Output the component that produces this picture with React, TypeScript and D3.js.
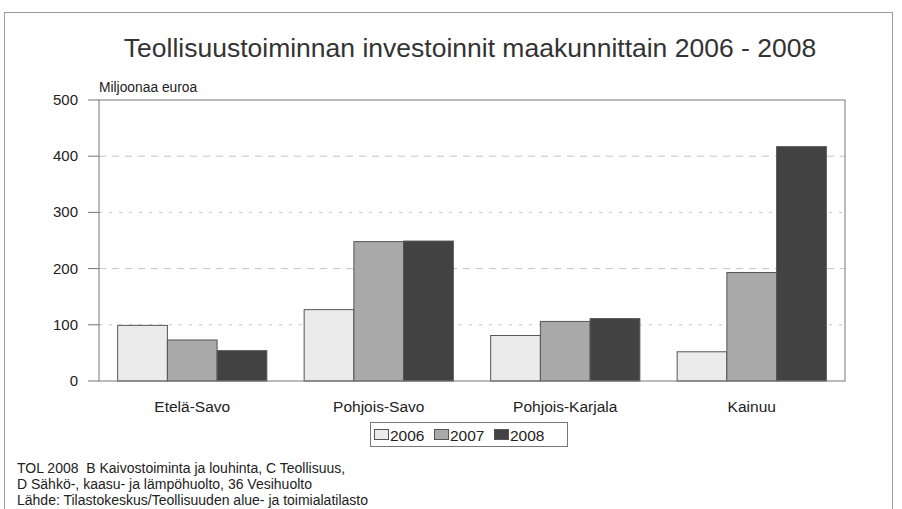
import * as d3 from 'd3'

const regions = ['Etelä-Savo', 'Pohjois-Savo', 'Pohjois-Karjala', 'Kainuu']
const years = ['2006', '2007', '2008']
const values2006 = [99, 127, 81, 52]
const values2007 = [73, 248, 106, 193]
const values2008 = [54, 249, 111, 417]
const yTicks = [0, 100, 200, 300, 400, 500]
const yearColors = ['#ebebeb', '#a9a9a9', '#424242']
const footnotes = [
  'TOL 2008\u00a0 B Kaivostoiminta ja louhinta, C Teollisuus,',
  'D Sähkö-, kaasu- ja lämpöhuolto, 36 Vesihuolto',
  'Lähde: Tilastokeskus/Teollisuuden alue- ja toimialatilasto',
]

const W = 902
const H = 509
const plot = { left: 99, right: 845, top: 100, bottom: 381 }
const font = '"Liberation Sans", Arial, sans-serif'

export default function App() {
  const series = [values2006, values2007, values2008]
  const x = d3.scaleBand<string>().domain(regions).range([plot.left, plot.right]).paddingInner(0.2).paddingOuter(0.1)
  const xs = d3.scaleBand<string>().domain(years).range([0, x.bandwidth()])
  const y = d3.scaleLinear().domain([0, 500]).range([plot.bottom, plot.top])

  return (
    <svg width={W} height={H} style={{ position: 'absolute', left: 0, top: 0, background: '#fff' }} fontFamily={font}>
      <rect x={4.5} y={12.5} width={888} height={520} fill="none" stroke="#9a9a9a" />
      <text x={470} y={57} textAnchor="middle" fontSize={26.5} fill="#333">
        Teollisuustoiminnan investoinnit maakunnittain 2006 - 2008
      </text>
      <text x={plot.left} y={92} fontSize={13.8} fill="#222">Miljoonaa euroa</text>

      {yTicks.filter((t) => t > 0 && t < 500).map((t) => (
        <line key={'g' + t} x1={plot.left} x2={plot.right} y1={y(t)} y2={y(t)}
          stroke="#c4c4c4" strokeDasharray={t % 200 === 0 ? '7,6' : '3,7'} />
      ))}

      {regions.map((r, i) => (
        <g key={r} transform={`translate(${x(r)},0)`}>
          {years.map((yr, j) => (
            <rect key={yr} x={xs(yr)} y={y(series[j][i])} width={xs.bandwidth()}
              height={plot.bottom - y(series[j][i])} fill={yearColors[j]} stroke="#555" strokeWidth={1} />
          ))}
          <text x={x.bandwidth() / 2} y={412} textAnchor="middle" fontSize={15.5} fill="#222">{r}</text>
        </g>
      ))}

      <rect x={plot.left} y={plot.top} width={plot.right - plot.left} height={plot.bottom - plot.top}
        fill="none" stroke="#777" />
      {yTicks.map((t) => (
        <g key={t}>
          <line x1={plot.left - 11} x2={plot.left} y1={y(t)} y2={y(t)} stroke="#777" />
          <text x={78} y={y(t) + 5} textAnchor="end" fontSize={15} fill="#222">{t}</text>
        </g>
      ))}

      <rect x={370.5} y={422.5} width={197} height={24} fill="#fff" stroke="#777" />
      {years.map((yr, j) => (
        <g key={yr} transform={`translate(${374 + j * 60},0)`}>
          <rect x={0.5} y={429.5} width={14} height={10} fill={yearColors[j]} stroke="#555" />
          <text x={16} y={441} fontSize={15.5} fill="#222">{yr}</text>
        </g>
      ))}

      {footnotes.map((f, i) => (
        <text key={i} x={17} y={473 + i * 16} fontSize={14} fill="#222">{f}</text>
      ))}
    </svg>
  )
}
